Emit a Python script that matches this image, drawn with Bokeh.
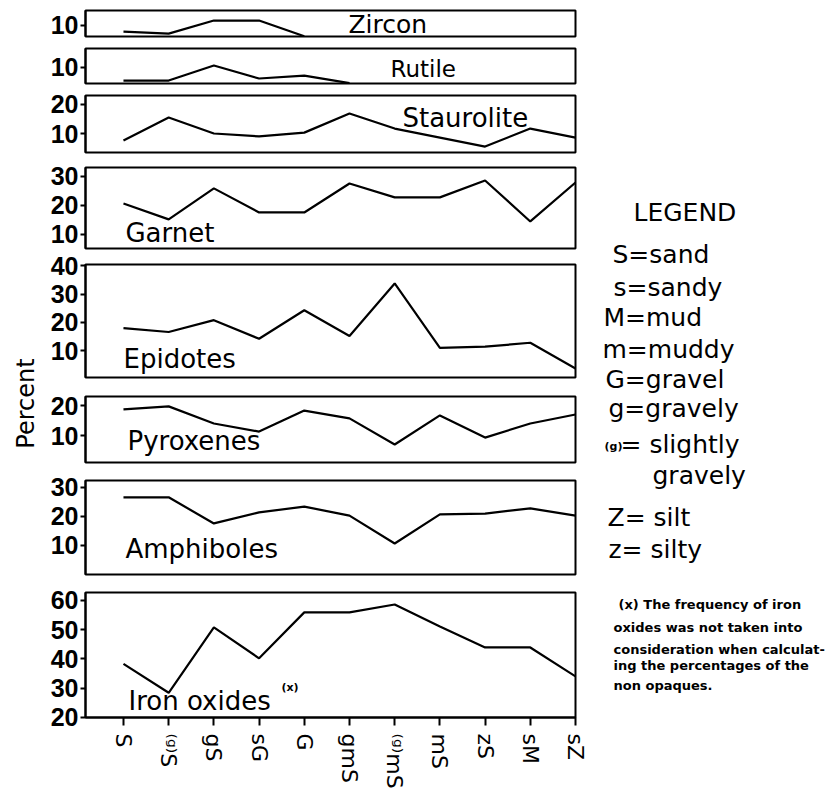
from bokeh.plotting import figure
from bokeh.models import Range1d, FixedTicker, Label
from bokeh.layouts import row, column
from bokeh.embed import file_html
from bokeh.resources import INLINE
import math

# ---------------- data ----------------
categories = ["S", "⁽ᵍ⁾S", "gS", "sG", "G", "gmS", "⁽ᵍ⁾mS", "mS", "zS", "sM", "sZ"]
zircon = [7.9, 7.2, 11.7, 11.7, 6.3]
rutile = [5.5, 5.5, 10.7, 6.2, 7.2, 4.6]
staurolite = [7.6, 15.5, 10.0, 9.0, 10.3, 16.9, 11.7, 8.6, 5.5, 11.7, 8.6]
garnet = [20.7, 15.2, 25.9, 17.6, 17.6, 27.6, 22.8, 22.8, 28.6, 14.5, 27.9]
epidotes = [18.0, 16.6, 20.8, 14.2, 24.3, 15.2, 33.8, 11.0, 11.4, 12.8, 3.7]
pyroxenes = [18.7, 19.7, 14.0, 11.3, 18.3, 15.7, 7.0, 16.7, 9.3, 14.0, 17.0]
amphiboles = [26.6, 26.6, 17.6, 21.4, 23.4, 20.3, 10.7, 20.7, 21.0, 22.8, 20.3]
iron_oxides = [38.3, 28.4, 50.8, 40.2, 55.9, 55.9, 58.6, 51.1, 43.9, 43.9, 34.0]

panel_names = ["Zircon", "Rutile", "Staurolite", "Garnet", "Epidotes",
               "Pyroxenes", "Amphiboles", "Iron oxides"]
panel_values = [zircon, rutile, staurolite, garnet, epidotes,
                pyroxenes, amphiboles, iron_oxides]
panel_ticks = [[10], [10], [10, 20], [10, 20, 30], [10, 20, 30, 40],
               [10, 20], [10, 20, 30], [20, 30, 40, 50, 60]]

legend_lines = ["S=sand", "s=sandy", "M=mud", "m=muddy", "G=gravel",
                "g=gravely", "= slightly", "gravely", "Z= silt", "z= silty"]
footnote_lines = ["(x) The frequency of iron",
                  "oxides was not taken into",
                  "consideration when calculat-",
                  "ing the percentages of the",
                  "non opaques."]

# ---------------- layout (positions / sizes) ----------------
PW = 46            # width of the "Percent" strip
FRAME_W = 490
LEFT = 39
RIGHT = 15
X_FIRST = 123.0    # page x of first category
X_STEP = 45.2      # page px per category
BASE_SHIFT = 0.35  # alphabetic baseline correction (em)

# (y range, frame top on page, frame height, top border, bottom border)
panel_geom = [
    ((6.2, 15.17), 10, 26, 10, 6),
    ((4.48, 16.55), 48, 35, 6, 6),
    ((3.45, 23.1), 95, 57, 6, 7),
    ((5.17, 33.1), 167, 81, 8, 2),
    ((0.5, 40.5), 264, 113, 14, 9),
    ((1.0, 23.0), 396, 66, 10, 9),
    ((0.0, 32.4), 480, 94, 9, 9),
    ((19.95, 62.7), 592, 125, 9, 74),
]
TOTAL_H = sum(g[2] + g[3] + g[4] for g in panel_geom)

# panel label: left x on page, baseline y on page, font size
label_pos = [(348, 33, 25), (390, 77, 23), (402, 127, 26),
             (125, 242, 26), (123, 368, 26), (127, 450, 26),
             (125, 558, 26), (128, 710, 26)]

figs = []
for i, (name, vals, ticks, geom, lp) in enumerate(
        zip(panel_names, panel_values, panel_ticks, panel_geom, label_pos)):
    (y0, y1), ftop, fh, tb, bb = geom
    last = (i == len(panel_names) - 1)
    p = figure(frame_width=FRAME_W, frame_height=fh,
               x_range=Range1d(-0.84, 10), y_range=Range1d(y0, y1),
               toolbar_location=None, output_backend="svg",
               x_axis_location="below" if last else None,
               min_border_left=LEFT, min_border_right=RIGHT,
               min_border_top=tb, min_border_bottom=bb)
    p.grid.visible = False
    p.outline_line_color = "black"
    p.outline_line_width = 2
    p.background_fill_color = "white"
    p.border_fill_color = "white"

    ya = p.yaxis[0]
    ya.ticker = FixedTicker(ticks=ticks)
    ya.axis_line_color = "black"
    ya.axis_line_width = 2
    ya.major_tick_line_width = 2
    ya.major_tick_out = 5
    ya.major_tick_in = 0
    ya.minor_tick_line_color = None
    ya.major_label_standoff = 2
    ya.major_label_text_font = "Liberation Sans"
    ya.major_label_text_font_style = "bold"
    ya.major_label_text_font_size = "25px"
    ya.major_label_text_color = "black"

    if last:
        xa = p.xaxis[0]
        xa.ticker = FixedTicker(ticks=list(range(len(categories))))
        xa.major_label_overrides = {k: c for k, c in enumerate(categories)}
        xa.major_label_orientation = "vertical"
        xa.axis_line_color = "black"
        xa.axis_line_width = 2
        xa.major_tick_line_width = 2
        xa.major_tick_out = 8
        xa.major_tick_in = 0
        xa.minor_tick_line_color = None
        xa.major_label_standoff = 8
        xa.major_label_text_font = "DejaVu Sans"
        xa.major_label_text_font_size = "22px"
        xa.major_label_text_color = "black"

    p.line(list(range(len(vals))), vals, line_color="black", line_width=2.2)

    def to_val(Y, y0=y0, y1=y1, ftop=ftop, fh=fh):
        return y1 - (Y - ftop) * (y1 - y0) / fh

    def to_idx(X):
        return (X - X_FIRST) / X_STEP

    LXp, LYp, fs = lp
    p.add_layout(Label(x=to_idx(LXp), y=to_val(LYp - BASE_SHIFT * fs), text=name,
                       text_font="DejaVu Sans", text_font_size=f"{fs}px",
                       text_color="black", text_align="left",
                       text_baseline="alphabetic"))
    if last:
        p.add_layout(Label(x=to_idx(281), y=to_val(691 - BASE_SHIFT * 11),
                           text="(x)", text_font="DejaVu Sans",
                           text_font_style="bold", text_font_size="11px",
                           text_color="black", text_align="left",
                           text_baseline="alphabetic"))
    figs.append(p)

# ---------------- "Percent" strip ----------------
pf = figure(frame_width=PW, frame_height=TOTAL_H, x_range=Range1d(0, PW),
            y_range=Range1d(0, TOTAL_H), toolbar_location=None,
            output_backend="svg", x_axis_type=None, y_axis_type=None,
            min_border=0)
pf.grid.visible = False
pf.outline_line_color = None
pf.add_layout(Label(x=25, y=TOTAL_H - 403, text="Percent", angle=math.pi / 2,
                    text_font="DejaVu Sans", text_font_size="24px",
                    text_color="black", text_align="center",
                    text_baseline="middle"))

# ---------------- legend strip ----------------
LW = 836 - 4 - (PW + LEFT + FRAME_W + RIGHT)
LX0 = PW + LEFT + FRAME_W + RIGHT
lf = figure(frame_width=LW, frame_height=TOTAL_H, x_range=Range1d(0, LW),
            y_range=Range1d(0, TOTAL_H), toolbar_location=None,
            output_backend="svg", x_axis_type=None, y_axis_type=None,
            min_border=0)
lf.grid.visible = False
lf.outline_line_color = None


def put(fig, X, Y, txt, size, bold=False):
    fig.add_layout(Label(x=X - LX0, y=TOTAL_H - (Y - BASE_SHIFT * size), text=txt,
                         text_font="DejaVu Sans",
                         text_font_size=f"{size}px",
                         text_font_style="bold" if bold else "normal",
                         text_color="black", text_align="left",
                         text_baseline="alphabetic"))


put(lf, 633, 221, "LEGEND", 25)
legend_x = [612, 613, 603, 602, 605, 608, 620, 652, 607, 608]
legend_y = [263, 296, 326, 358, 388, 417, 453, 484, 526, 558]
for t, X, Y in zip(legend_lines, legend_x, legend_y):
    put(lf, X, Y, t, 25)
put(lf, 604, 450, "(g)", 11, bold=True)

foot_x = [618, 613, 613, 613, 613]
foot_y = [609, 632, 654, 670, 690]
for t, X, Y in zip(footnote_lines, foot_x, foot_y):
    put(lf, X, Y, t, 13, bold=True)

layout = row(pf, column(*figs), lf)
open("out.html", "w").write(file_html(layout, INLINE))
